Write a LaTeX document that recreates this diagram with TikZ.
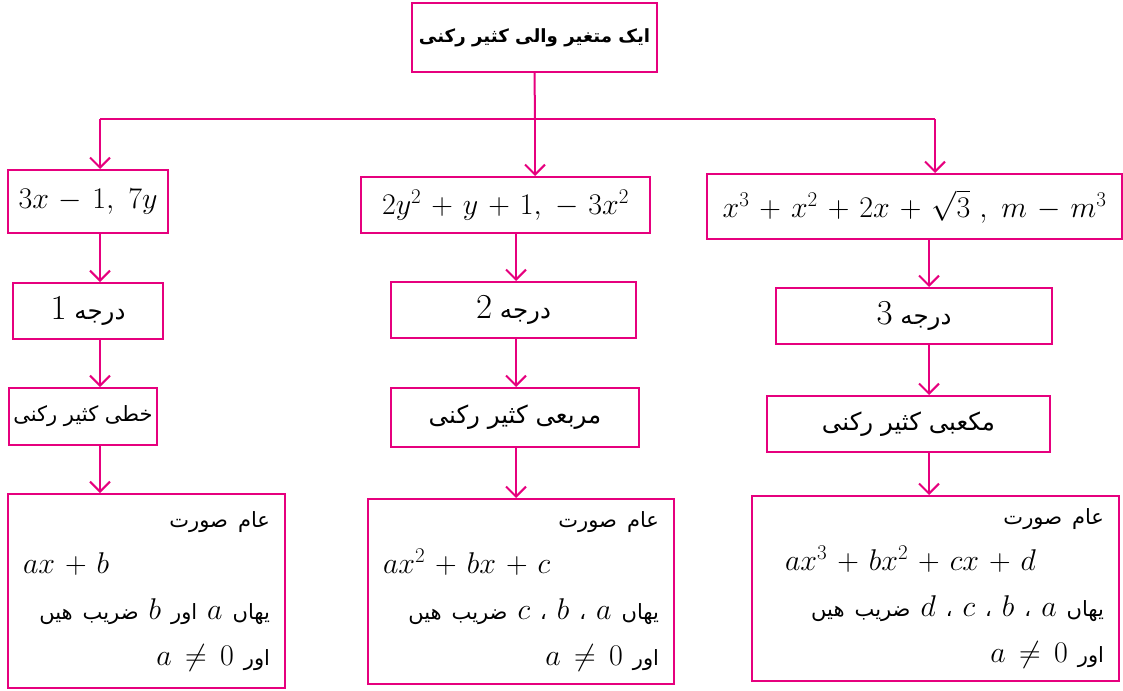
\RequirePackage{fix-cm}
\documentclass[tikz,border=0pt]{standalone}
\usepackage{fontspec}
\usepackage{amsmath}
\usetikzlibrary{arrows.meta}
\TeXXeTstate=1
\newfontfamily\urdufont[Script=Arabic,Scale=0.7]{DejaVu Sans}
\definecolor{flowpink}{RGB}{230,0,126}
\newcommand{\ur}[1]{{\urdufont\beginR #1\endR}}
\newcommand{\mth}[1]{\mbox{$#1$}}
\newcommand{\rt}{\hspace*{\fill}}
\newcommand{\flowfont}{\fontsize{30}{46}\selectfont\medmuskip=6mu\relax\thickmuskip=8mu\relax}
\newcommand{\bigur}{\fontsize{35}{46}\selectfont}

\begin{document}
\begin{tikzpicture}[x=1pt,y=-1pt,font=\flowfont,
  pbox/.style={draw=flowpink, line width=2pt, inner sep=0pt, align=center},
  formbox/.style={pbox, inner xsep=15pt, align=left},
  flowline/.style={draw=flowpink, line width=2pt},
  flow/.style={flowline, -{Straight Barb[length=10pt,width=20pt]}}]
\useasboundingbox (0,0) rectangle (1123,690);
% top
\node[pbox, minimum width=245pt, minimum height=69pt] (title) at (534.5,37.5) {\fontsize{26}{30}\selectfont\bfseries\ur{ایک متغیر والی کثیر رکنی}};
% first row
\node[pbox, minimum width=160pt, minimum height=63pt] (L1) at (88,201.5) {$3x - 1,\ 7y$};
\node[pbox, minimum width=289pt, minimum height=56pt] (M1) at (505.5,205) {$2y^{2} + y + 1,\ -\ 3x^{2}$};
\node[pbox, minimum width=415pt, minimum height=65pt] (R1) at (914.5,206.5) {$x^{3} + x^{2} + 2x + \sqrt{3}\ ,\ m - m^{3}$};
% degree
\node[pbox, minimum width=150pt, minimum height=56pt] (L2) at (88,311) {\bigur\ur{درجه \mth{1}}};
\node[pbox, minimum width=245pt, minimum height=56pt] (M2) at (513.5,310) {\bigur\ur{درجه \mth{2}}};
\node[pbox, minimum width=276pt, minimum height=56pt] (R2) at (914,316) {\bigur\ur{درجه \mth{3}}};
% kind
\node[pbox, minimum width=148pt, minimum height=57pt] (L3) at (83,416.5) {\ur{خطی کثیر رکنی}};
\node[pbox, minimum width=248pt, minimum height=59pt] (M3) at (515,417.5) {\bigur\ur{مربعی کثیر رکنی}};
\node[pbox, minimum width=283pt, minimum height=56pt] (R3) at (908.5,424) {\bigur\ur{مکعبی کثیر رکنی}};
% general form
\node[formbox, minimum width=277pt, minimum height=194pt, text width=247pt] (L4) at (146.5,591)
  {\rt\ur{عام صورت}\\ $ax + b$\\ \rt\ur{یهاں \mth{a} اور \mth{b} ضریب هیں}\\ \rt\ur{اور \mth{a \neq 0}}};
\node[formbox, minimum width=306pt, minimum height=185pt, text width=276pt] (M4) at (521,591.5)
  {\rt\ur{عام صورت}\\ $ax^{2} + bx + c$\\ \rt\ur{یهاں \mth{a} ، \mth{b} ، \mth{c} ضریب هیں}\\ \rt\ur{اور \mth{a \neq 0}}};
\node[formbox, minimum width=367pt, minimum height=185pt, text width=337pt] (R4) at (935.5,588.5)
  {\rt\ur{عام صورت}\\ \hspace*{18pt}$ax^{3} + bx^{2} + cx + d$\\ \rt\ur{یهاں \mth{a} ، \mth{b} ، \mth{c} ، \mth{d} ضریب هیں}\\ \rt\ur{اور \mth{a \neq 0}}};
% connectors
\coordinate (hub) at (535,119);
\coordinate (hubL) at (100,119);
\coordinate (hubR) at (935,119);
\coordinate (colL) at (100,0);
\coordinate (colM) at (516,0);
\coordinate (colR) at (929,0);
\draw[flowline] (title.south) -- (hub);
\draw[flowline] (hubL) -- (hubR);
\draw[flow] (hubL) -- (hubL |- L1.north);
\draw[flow] (hub) -- (hub |- M1.north);
\draw[flow] (hubR) -- (hubR |- R1.north);
\foreach \c in {L,M,R}
  \foreach \a/\b in {1/2,2/3,3/4}
    \draw[flow] (col\c |- \c\a.south) -- (col\c |- \c\b.north);
\end{tikzpicture}
\end{document}
